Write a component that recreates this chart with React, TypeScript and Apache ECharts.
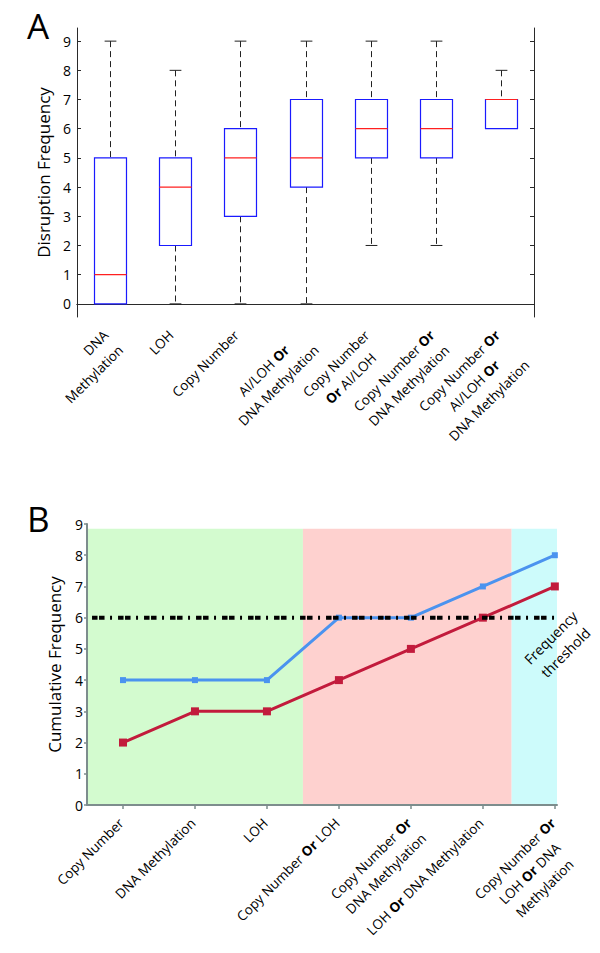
import React, { useEffect, useRef } from "react";
import * as echarts from "echarts";

// ---------- Panel A data (box plots) ----------
const boxCategories = [
  "DNA\nMethylation",
  "LOH",
  "Copy Number",
  "AI/LOH Or\nDNA Methylation",
  "Copy Number\nOr AI/LOH",
  "Copy Number Or\nDNA Methylation",
  "Copy Number Or\nAI/LOH Or\nDNA Methylation",
];
const boxMin = [0, 0, 0, 0, 2, 2, 6];
const boxQ1 = [0, 2, 3, 4, 5, 5, 6];
const boxMedian = [1, 4, 5, 5, 6, 6, 7];
const boxQ3 = [5, 5, 6, 7, 7, 7, 7];
const boxMax = [9, 8, 9, 9, 9, 9, 8];
const yTicksA = [0, 1, 2, 3, 4, 5, 6, 7, 8, 9];

// ---------- Panel B data (cumulative lines) ----------
const lineCategories = [
  "Copy Number",
  "DNA Methylation",
  "LOH",
  "Copy Number Or LOH",
  "Copy Number Or\nDNA Methylation",
  "LOH Or DNA Methylation",
  "Copy Number Or\nLOH Or DNA\nMethylation",
];
const blueValues = [4, 4, 4, 6, 6, 7, 8];
const redValues = [2, 3, 3, 4, 5, 6, 7];
const thresholdValue = 6;
const regionStart = [-0.5, 2.5, 5.4];
const regionEnd = [2.5, 5.4, 6.03];
const regionTop = 8.85;
const xTicksB = [0, 1, 2, 3, 4, 5, 6];

const FONT = "'Open Sans', 'Noto Sans', sans-serif";

function richLabel(text: string, right: boolean) {
  const n = right ? "nr" : "n";
  const b = right ? "br" : "b";
  return text
    .split("\n")
    .map((line) =>
      line
        .split(/\b(Or)\b/)
        .filter((t) => t.length > 0)
        .map((t) => (t === "Or" ? `{${b}|Or}` : `{${n}|${t}}`))
        .join("")
    )
    .join("\n");
}

const LH = 21;
const FS = 13.5;
const richStyles = {
  n: { fontFamily: FONT, fontSize: FS, color: "#000", align: "center", lineHeight: LH },
  b: { fontFamily: FONT, fontSize: FS, color: "#000", fontWeight: "bold", align: "center", lineHeight: LH },
  nr: { fontFamily: FONT, fontSize: FS, color: "#000", align: "right", lineHeight: LH },
  br: { fontFamily: FONT, fontSize: FS, color: "#000", fontWeight: "bold", align: "right", lineHeight: LH },
};

export default function App() {
  const ref = useRef<HTMLDivElement>(null);

  useEffect(() => {
    if (!ref.current) return;
    const chart = echarts.init(ref.current, undefined, { renderer: "svg" });
    const frame = "#2a2a2a";
    const grayAxis = "#7d8d8d";

    const boxData = boxCategories.map((_, i) => [
      i,
      boxMin[i],
      boxQ1[i],
      boxMedian[i],
      boxQ3[i],
      boxMax[i],
    ]);

    const bgColors = ["#d3fbcf", "#fed1cf", "#cdfbfb"];

    const option: any = {
      animation: false,
      backgroundColor: "#fff",
      textStyle: { fontFamily: FONT },
      grid: [
        { left: 77, top: 28, width: 457, height: 289 },
        { left: 87, top: 524, width: 470, height: 281 },
      ],
      xAxis: [
        {
          gridIndex: 0,
          type: "category",
          data: boxCategories,
          position: "bottom",
          boundaryGap: true,
          axisLine: { lineStyle: { color: frame, width: 1 } },
          axisTick: { inside: true, alignWithLabel: true, length: 4, lineStyle: { color: frame } },
          axisLabel: {
            interval: 0,
            rotate: 45,
            align: "right",
            verticalAlign: "top",
            margin: -3,
            padding: [0, 16, 0, 0],
            formatter: (v: string, idx: number) => richLabel(v, idx === 0),
            rich: richStyles,
          },
          splitLine: { show: false },
        },
        {
          gridIndex: 0,
          type: "category",
          data: boxCategories,
          position: "top",
          boundaryGap: true,
          axisLine: { lineStyle: { color: frame, width: 1 } },
          axisTick: { inside: true, alignWithLabel: true, length: 4, lineStyle: { color: frame } },
          axisLabel: { show: false },
          splitLine: { show: false },
        },
        {
          gridIndex: 1,
          type: "value",
          min: -0.5,
          max: 6.03,
          axisLine: { onZero: false, lineStyle: { color: grayAxis, width: 2 } },
          axisTick: { show: true, length: 4, customValues: xTicksB, lineStyle: { color: grayAxis, width: 1.5 } },
          axisLabel: {
            customValues: xTicksB,
            rotate: 45,
            align: "right",
            verticalAlign: "top",
            margin: -1,
            padding: [0, 13, 0, 0],
            formatter: (v: number) => richLabel(lineCategories[Math.round(v)] ?? "", false),
            rich: richStyles,
          },
          splitLine: { show: false },
        },
      ],
      yAxis: [
        {
          gridIndex: 0,
          type: "value",
          position: "left",
          min: -0.45,
          max: 9.45,
          name: "Disruption Frequency",
          nameLocation: "middle",
          nameGap: 24,
          nameTextStyle: { fontFamily: FONT, fontSize: 17, color: "#000" },
          axisLine: { show: true, onZero: false, lineStyle: { color: frame, width: 1 } },
          axisTick: { show: true, inside: true, length: 4, customValues: yTicksA, lineStyle: { color: frame } },
          axisLabel: { customValues: yTicksA, fontFamily: FONT, fontSize: 14, color: "#000", margin: 6 },
          splitLine: { show: false },
        },
        {
          gridIndex: 0,
          type: "value",
          position: "right",
          min: -0.45,
          max: 9.45,
          axisLine: { show: true, onZero: false, lineStyle: { color: frame, width: 1 } },
          axisTick: { show: true, inside: true, length: 4, customValues: yTicksA, lineStyle: { color: frame } },
          axisLabel: { show: false },
          splitLine: { show: false },
        },
        {
          gridIndex: 1,
          type: "value",
          min: 0,
          max: 9,
          interval: 1,
          name: "Cumulative Frequency",
          nameLocation: "middle",
          nameGap: 24,
          nameTextStyle: { fontFamily: FONT, fontSize: 17, color: "#000" },
          axisLine: { show: true, onZero: false, lineStyle: { color: grayAxis, width: 2 } },
          axisTick: { show: true, length: 3, lineStyle: { color: grayAxis, width: 1.5 } },
          axisLabel: { fontFamily: FONT, fontSize: 14, color: "#000", margin: 4 },
          splitLine: { show: false },
        },
      ],
      series: [
        {
          type: "custom",
          name: "boxes",
          xAxisIndex: 0,
          yAxisIndex: 0,
          data: boxData,
          encode: { x: 0, y: [1, 2, 3, 4, 5] },
          renderItem: (params: any, api: any) => {
            const i = api.value(0);
            const mn = api.value(1);
            const q1 = api.value(2);
            const md = api.value(3);
            const q3 = api.value(4);
            const mx = api.value(5);
            const band = api.size([1, 0])[0];
            const bw = band * 0.49;
            const cw = band * 0.18;
            const pMin = api.coord([i, mn]);
            const pQ1 = api.coord([i, q1]);
            const pMd = api.coord([i, md]);
            const pQ3 = api.coord([i, q3]);
            const pMax = api.coord([i, mx]);
            const x = Math.round(pMin[0]) + 0.5;
            const children: any[] = [];
            const wStyle = { stroke: "#222", lineWidth: 1, lineDash: [6, 4] };
            const cStyle = { stroke: "#222", lineWidth: 1 };
            if (mx > q3) {
              children.push({ type: "line", shape: { x1: x, y1: pMax[1], x2: x, y2: pQ3[1] }, style: wStyle });
              children.push({ type: "line", shape: { x1: x - cw / 2, y1: pMax[1], x2: x + cw / 2, y2: pMax[1] }, style: cStyle });
            }
            if (mn < q1) {
              children.push({ type: "line", shape: { x1: x, y1: pQ1[1], x2: x, y2: pMin[1] }, style: wStyle });
              children.push({ type: "line", shape: { x1: x - cw / 2, y1: pMin[1], x2: x + cw / 2, y2: pMin[1] }, style: cStyle });
            }
            children.push({
              type: "rect",
              shape: { x: x - bw / 2, y: pQ3[1], width: bw, height: pQ1[1] - pQ3[1] },
              style: { fill: "none", stroke: "#1a1aff", lineWidth: 1.2 },
            });
            children.push({
              type: "line",
              shape: { x1: x - bw / 2, y1: pMd[1], x2: x + bw / 2, y2: pMd[1] },
              style: { stroke: "#ff2020", lineWidth: 1.2 },
            });
            return { type: "group", children };
          },
          z: 3,
        },
        {
          type: "custom",
          name: "regions",
          xAxisIndex: 2,
          yAxisIndex: 2,
          data: regionStart.map((s, k) => [s, regionEnd[k], k]),
          encode: { x: [0, 1] },
          renderItem: (params: any, api: any) => {
            const p0 = api.coord([api.value(0), 0]);
            const p1 = api.coord([api.value(1), regionTop]);
            return {
              type: "rect",
              shape: { x: p0[0], y: p1[1], width: p1[0] - p0[0], height: p0[1] - p1[1] },
              style: { fill: bgColors[api.value(2)] },
            };
          },
          silent: true,
          z: 0,
        },
        {
          type: "line",
          name: "red",
          xAxisIndex: 2,
          yAxisIndex: 2,
          data: redValues.map((v, i) => [i, v]),
          symbol: "rect",
          symbolSize: 8,
          lineStyle: { color: "#c21b3c", width: 3 },
          itemStyle: { color: "#c21b3c" },
          z: 3,
        },
        {
          type: "line",
          name: "blue",
          xAxisIndex: 2,
          yAxisIndex: 2,
          data: blueValues.map((v, i) => [i, v]),
          symbol: "rect",
          symbolSize: 6,
          lineStyle: { color: "#4b93ef", width: 3 },
          itemStyle: { color: "#4b93ef" },
          z: 3,
        },
        {
          type: "line",
          name: "threshold",
          xAxisIndex: 2,
          yAxisIndex: 2,
          data: [
            [-0.43, thresholdValue],
            [6.0, thresholdValue],
          ],
          symbol: "none",
          lineStyle: { color: "#000", width: 4, type: [5.5, 1.5, 5.5, 5.5, 2, 6], cap: "butt" },
          z: 5,
        },
      ],
      graphic: [
        {
          type: "text",
          x: 27,
          y: 25,
          style: { text: "A", font: `35px ${FONT}`, fill: "#000", align: "left", verticalAlign: "middle" },
        },
        {
          type: "text",
          x: 27,
          y: 518,
          style: { text: "B", font: `35px ${FONT}`, fill: "#000", align: "left", verticalAlign: "middle" },
        },
        {
          type: "text",
          x: 558,
          y: 645,
          rotation: Math.PI / 4,
          style: {
            text: "Frequency\nthreshold",
            font: `14px ${FONT}`,
            fill: "#000",
            align: "center",
            verticalAlign: "middle",
            lineHeight: 21,
          },
          z: 10,
        },
      ],
    };

    chart.setOption(option);
    return () => chart.dispose();
  }, []);

  return (
    <div
      ref={ref}
      style={{ position: "absolute", left: 0, top: 0, width: 600, height: 953, background: "#fff" }}
    />
  );
}
